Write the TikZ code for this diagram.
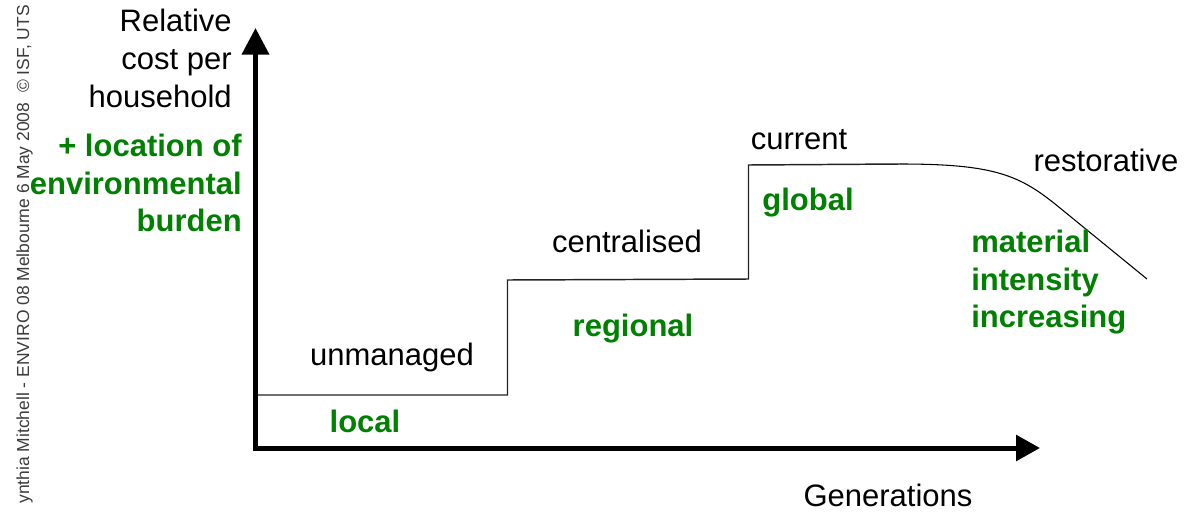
\documentclass[tikz,border=0pt]{standalone}
\usepackage{fontspec}
\setmainfont{Liberation Sans}
\usetikzlibrary{arrows.meta,positioning}
\definecolor{leafgreen}{RGB}{0,128,0}
\definecolor{stepgrey}{RGB}{35,35,35}
\definecolor{creditgrey}{RGB}{60,60,60}
\tikzset{
  axis/.style ={line width=3.75pt,line join=miter,{Triangle[length=20pt,width=20pt]}-{Triangle[length=18pt,width=19pt]}},
  stair/.style={draw=stepgrey,line width=1.1pt},
  tail/.style ={draw=black,line width=0.8pt},
  lbl/.style  ={font=\fontsize{23.25}{28.5}\selectfont,inner sep=0pt},
  glbl/.style ={font=\fontsize{23.25}{28}\selectfont\bfseries,text=leafgreen,inner sep=0pt},
  credit/.style={font=\fontsize{13.1}{16}\selectfont,text=creditgrey,rotate=90,inner sep=0pt},
}

\begin{document}
\begin{tikzpicture}[x=0.75pt,y=-0.75pt]
\useasboundingbox (0,0) rectangle (1186,511);
% axes
\coordinate (orig) at (255.5,448);
\coordinate (ytop) at (255.5,28);
\coordinate (xend) at (1040,448);
\draw[axis] (ytop) -- (orig) -- (xend);

% stepped cost line
\coordinate (s0) at (258,395);
\coordinate (s1) at (507.5,395);
\coordinate (s2) at (507.5,280);
\coordinate (s3) at (748.5,279);
\coordinate (s4) at (748.5,165);
\coordinate (s5) at (900,164);
\coordinate (s6) at (1060,208);
\coordinate (s7) at (1147,279);
\draw[stair] (s0) -- (s1) -- (s2) -- (s3) -- (s4) -- (s5);
\draw[tail] (s5) .. controls (995,164) and (1020,175) .. (s6) -- (s7);

% axis labels
\node[lbl,align=right,anchor=north east] (ylab) at (232,9) {Relative\\cost per\\household};
\node[glbl,align=right,anchor=north east] (burden) at (242,134) {+ location of\\environmental\\burden};
\node[lbl,anchor=base] (gens) at (888,506) {Generations};

% stage names
\node[lbl,anchor=base] (unman) at (392,365) {unmanaged};
\node[lbl,anchor=base] (central) at (627,252) {centralised};
\node[lbl,anchor=base] (current) at (799,149) {current};
\node[lbl,anchor=base] (restore) at (1106,171) {restorative};

% scale of burden
\node[glbl,anchor=base] (local) at (365,432) {local};
\node[glbl,anchor=base] (regional) at (633,336) {regional};
\node[glbl,anchor=base] (global) at (808,210) {global};
\node[glbl,align=left,anchor=north west] (material) at (971,230) {material\\intensity\\increasing};

% credit line
\node[credit,anchor=base east] (credit) at (29,5) {ynthia Mitchell - ENVIRO 08 Melbourne 6 May 2008\ \ \textcopyright\ ISF, UTS};
\end{tikzpicture}
\end{document}
